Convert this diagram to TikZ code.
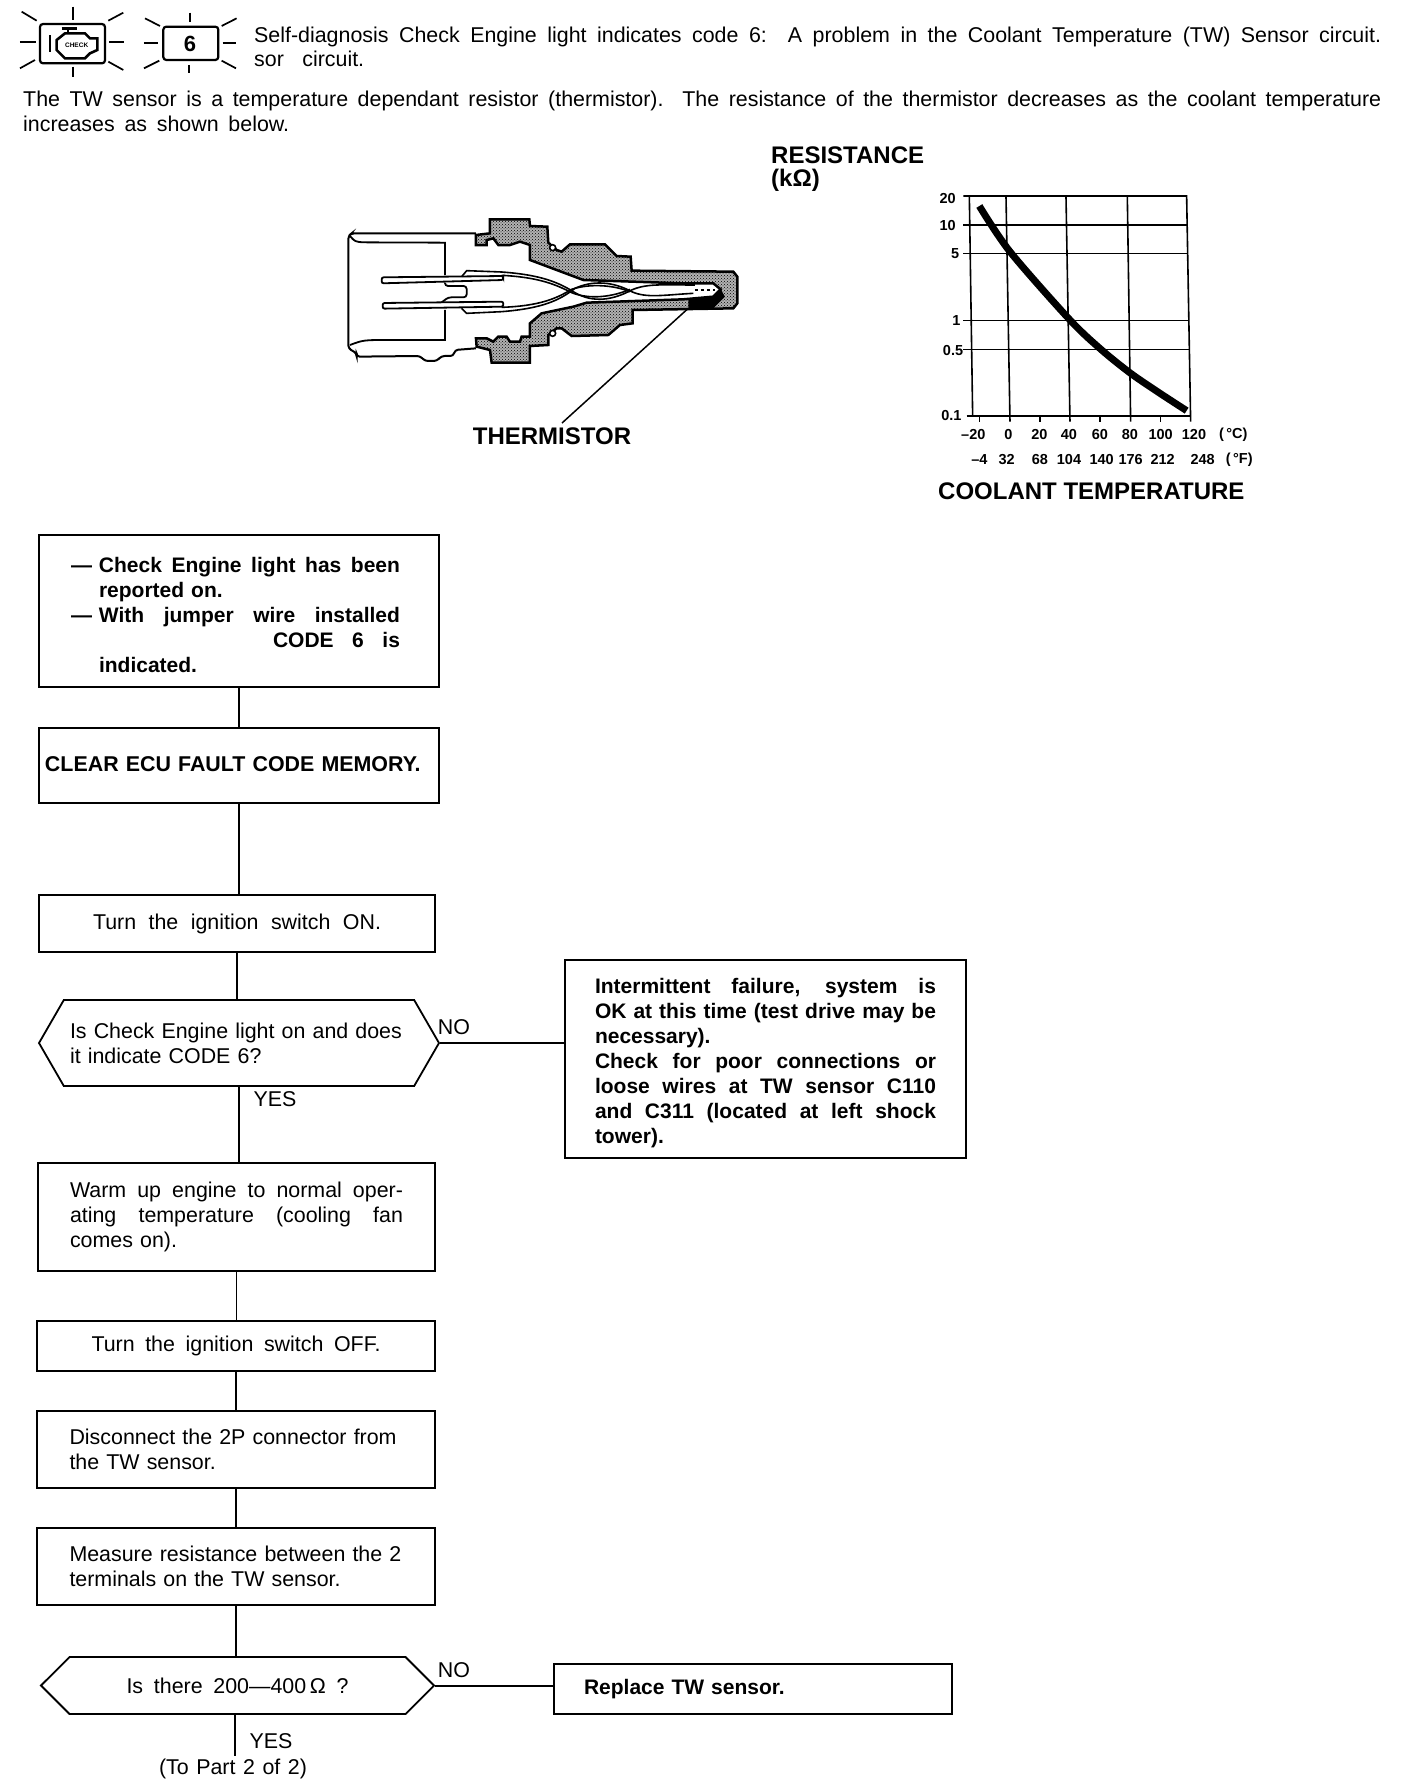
\documentclass[tikz,border=0pt]{standalone}
\usepackage{fontspec}
\setmainfont{Liberation Sans}
\usepackage{tikz}
\usetikzlibrary{calc,patterns,shapes.symbols}

\newcommand{\spreadto}[2]{\leavevmode\hbox to #1{\spaceskip=0pt\xspaceskip=0pt #2}}
\newcommand{\spreadline}[1]{\spreadto{\hsize}{#1}}

\begin{document}
\begin{tikzpicture}[
  x=1pt,y=-1pt,
  font=\fontsize{21.4}{25}\selectfont,
  stepbox/.style={draw,line width=1.8pt,align=left,inner sep=0pt},
  boldbox/.style={stepbox,font=\fontsize{21}{25}\selectfont\bfseries},
  decision/.style={draw,line width=1.8pt,signal,signal to=west and east,align=left,inner sep=0pt},
  link/.style={line width=1.3pt},
  ray/.style={line width=1.7pt},
  gridline/.style={line width=1.6pt},
  heading/.style={font=\fontsize{24}{28}\selectfont\bfseries,inner sep=0pt},
  scale label/.style={font=\fontsize{14.5}{16}\selectfont\bfseries,inner sep=0pt},
  plain label/.style={inner sep=0pt}
]
\useasboundingbox[fill=white] (0,0) rectangle (1408,1792);

% warning lamps
\begin{scope}[x=0.3333pt,y=-0.3333pt]
\draw[line width=2.2pt,rounded corners=3pt] (120,72) rectangle (315,190);
\draw[line width=2.2pt,rounded corners=3pt] (490,80) rectangle (655,180);
\draw[line width=2.6pt] (150,105) -- (150,155);
\draw[line width=2.6pt] (185,85) -- (230,85);
\draw[line width=2.2pt] (205,85) -- (205,100);
\draw[line width=2.6pt] (170,120) -- (195,100) -- (255,100) -- (270,115) -- (292,115) -- (292,150)
  -- (270,160) -- (255,175) -- (195,175) -- (170,150) -- cycle;
\node[inner sep=0pt,font=\fontsize{6.5}{6}\selectfont\bfseries] (lampcheck) at (230,136) {CHECK};
\node[inner sep=0pt,font=\fontsize{22}{22}\selectfont\bfseries] (lampcode) at (570,131) {6};
\draw[ray] (220,20) -- (220,60);
\draw[ray] (65,35) -- (110,62);
\draw[ray] (370,38) -- (325,62);
\draw[ray] (60,125) -- (108,125);
\draw[ray] (328,125) -- (372,125);
\draw[ray] (60,205) -- (105,180);
\draw[ray] (325,185) -- (370,210);
\draw[ray] (218,200) -- (218,230);
\draw[ray] (570,38) -- (570,65);
\draw[ray] (435,55) -- (480,78);
\draw[ray] (710,55) -- (665,78);
\draw[ray] (432,128) -- (475,128);
\draw[ray] (668,128) -- (708,128);
\draw[ray] (432,205) -- (478,182);
\draw[ray] (665,182) -- (708,205);
\draw[ray] (568,195) -- (568,220);
\end{scope}

% text at the top
\node[plain label,anchor=west,text width=1127pt,align=left] (headline) at (254,37)
  {\spreadline{Self-diagnosis Check Engine light indicates code 6:\ \ A problem in the Coolant Temperature (TW) Sensor circuit.}};
\node[plain label,anchor=west] (headrest) at (254,59) {\spreadto{110pt}{sor circuit.}};
\node[plain label,anchor=west,text width=1358pt,align=left] (intro) at (23,101)
  {\spreadline{The TW sensor is a temperature dependant resistor (thermistor). The resistance of the thermistor decreases as the coolant temperature}};
\node[plain label,anchor=west] (introrest) at (23,124) {\spreadto{266pt}{increases as shown below.}};

% sensor cut-away
\begin{scope}[shift={(330,200)},x=0.3333pt,y=-0.3333pt]
\draw[line width=2.5pt,preaction={fill=black!30},pattern=crosshatch dots,pattern color=black]
  (480,58) -- (598,58) -- (600,78) -- (652,80) -- (655,128) -- (680,150) -- (695,155) -- (720,133)
  -- (825,133) -- (860,168) -- (902,170) -- (905,212) -- (1210,215) -- (1222,230) -- (1222,310)
  -- (1210,325) -- (908,330) -- (908,370) -- (870,375) -- (835,405) -- (725,408) -- (695,385)
  -- (680,385) -- (655,405) -- (655,435) -- (600,438) -- (600,488) -- (485,488) -- (480,450)
  -- (440,440) -- (438,415) -- (470,415) -- (490,425) -- (505,410) -- (530,410) -- (540,425)
  -- (570,425) -- (575,410) -- (600,410) -- (600,370) -- (635,340) -- (730,320) -- (770,308)
  -- (1060,298) -- (1150,290) -- (1172,268) -- (1150,250) -- (1060,250) -- (760,240) -- (600,180)
  -- (600,135) -- (570,125) -- (540,135) -- (505,135) -- (490,115) -- (470,120) -- (470,135)
  -- (438,135) -- (438,105) -- (480,100) -- cycle;
\draw[line width=1.6pt,fill=white] (668,143) circle[radius=9];
\draw[line width=1.6pt,fill=white] (668,400) circle[radius=9];
\fill[black] (1075,298) -- (1150,290) -- (1172,268) -- (1185,290) -- (1150,325) -- (1075,325) -- cycle;
\draw[line width=2pt,rounded corners=3pt] (438,100) -- (65,100) -- (55,108) -- (55,445) -- (80,460) -- (80,470)
  -- (270,468) -- (285,483) -- (320,483) -- (335,468) -- (370,468) -- (375,450) -- (438,445);
\draw[line width=1.8pt] (60,108) .. controls (75,125) .. (100,127) -- (345,128) -- (345,225);
\draw[line width=1.8pt] (345,330) -- (345,420) -- (180,420) .. controls (100,420) .. (60,435);
\draw[line width=1.8pt,rounded corners=3pt] (345,248) -- (345,258) -- (410,258) -- (410,292) -- (355,292) -- (335,307);
\draw[line width=1.8pt,fill=white,rounded corners=2pt] (155,232) -- (520,228) -- (520,240) -- (155,250) -- cycle;
\draw[line width=1.8pt,fill=white,rounded corners=2pt] (158,309) -- (520,305) -- (520,320) -- (158,326) -- cycle;
\draw[line width=1.6pt] (395,230) -- (410,212) -- (515,216) .. controls (640,225) and (690,250) .. (735,278)
  .. controls (790,310) and (850,300) .. (905,270) .. controls (950,250) and (1000,255) .. (1095,255);
\draw[line width=1.6pt] (515,226) .. controls (630,232) and (680,255) .. (725,278)
  .. controls (780,300) and (850,290) .. (900,268);
\draw[line width=1.6pt] (395,325) -- (410,340) -- (515,335) .. controls (640,325) and (690,300) .. (735,265)
  .. controls (790,240) and (850,245) .. (905,275) .. controls (950,295) and (1000,285) .. (1090,280);
\draw[line width=1.6pt] (515,322) .. controls (630,318) and (680,295) .. (725,268)
  .. controls (780,250) and (850,255) .. (900,275);
\draw[line width=1.6pt,dashed] (1095,270) -- (1155,270);
\coordinate (sensortip) at (1075,325);
\end{scope}
\node[heading] (thermistor) at (552,436) {THERMISTOR};
\draw[line width=1.5pt] (562,423) -- (sensortip);

% resistance graph
\node[heading,anchor=west] (resistance) at (771,155) {RESISTANCE};
\node[heading,anchor=west] (kohm) at (771,180) {(kΩ)};
\node[heading,anchor=west] (coolant) at (938,491) {COOLANT TEMPERATURE};
\begin{scope}[shift={(920,170)},x=0.3333pt,y=-0.3333pt]
\draw[gridline] (130,78) -- (800,78) -- (812,755);
\draw[gridline] (148,78) -- (158,738);
\draw[gridline] (130,165) -- (800,165);
\draw[gridline] (130,250) -- (803,250);
\draw[gridline] (130,452) -- (806,452);
\draw[gridline] (130,538) -- (808,538);
\draw[gridline] (140,738) -- (812,738);
\draw[gridline] (258,78) -- (270,755);
\draw[gridline] (438,78) -- (450,755);
\draw[gridline] (622,78) -- (632,755);
\draw[gridline] (178,738) -- (178,755);
\draw[gridline] (360,738) -- (360,755);
\draw[gridline] (540,738) -- (540,755);
\draw[gridline] (722,738) -- (722,755);
\draw[line width=7pt] plot[smooth] coordinates {(178,108) (270,245) (450,450) (545,540) (632,610) (720,670) (800,722)};
\node[scale label,anchor=east] (r20) at (108,85) {20};
\node[scale label,anchor=east] (r10) at (108,168) {10};
\node[scale label,anchor=east] (r5) at (118,250) {5};
\node[scale label,anchor=east] (r1) at (122,452) {1};
\node[scale label,anchor=east] (r05) at (130,542) {0.5};
\node[scale label,anchor=east] (r01) at (125,738) {0.1};
\node[scale label] (c20m) at (160,795) {--20};
\node[scale label] (c0) at (265,795) {0};
\node[scale label] (c20) at (358,795) {20};
\node[scale label] (c40) at (447,795) {40};
\node[scale label] (c60) at (540,795) {60};
\node[scale label] (c80) at (630,795) {80};
\node[scale label] (c100) at (722,795) {100};
\node[scale label] (c120) at (822,795) {120};
\node[scale label] (cunit) at (940,795) {(\,°C)};
\node[scale label] (f4) at (178,868) {--4};
\node[scale label] (f32) at (260,868) {32};
\node[scale label] (f68) at (360,868) {68};
\node[scale label] (f104) at (447,868) {104};
\node[scale label] (f140) at (545,868) {140};
\node[scale label] (f176) at (632,868) {176};
\node[scale label] (f212) at (728,868) {212};
\node[scale label] (f248) at (848,868) {248};
\node[scale label] (funit) at (958,868) {(\,°F)};
\end{scope}

% flow chart
\node[boldbox,minimum width=400pt,minimum height=152pt,text width=336pt] (notice) at (239,611) {%
  \rule{0pt}{23pt}\spreadto{329pt}{\hbox to 28pt{---\hss}Check Engine light has been}\\
  \hspace*{28pt}reported on.\\
  \spreadto{329pt}{\hbox to 28pt{---\hss}With jumper wire installed}\\
  \spreadto{329pt}{\hspace*{202pt}CODE 6 is}\\
  \hspace*{28pt}indicated.
};
\node[stepbox,font=\fontsize{21.4}{25}\selectfont\bfseries,minimum width=400pt,minimum height=75pt,text width=388pt] (clear) at (239,765.5) {\raisebox{3pt}{CLEAR ECU FAULT CODE MEMORY.}};
\node[stepbox,minimum width=396pt,minimum height=57pt,text width=288pt] (ignon) at (237,923.5) {\spreadline{Turn the ignition switch ON.}};
\node[decision,signal pointer angle=120,minimum width=400pt,minimum height=86pt,text width=338pt] (codesix) at (239,1043) {%
  Is Check Engine light on and does\\
  it indicate CODE 6?
};
\node[boldbox,minimum width=401pt,minimum height=198pt,text width=341pt] (intermittent) at (765.5,1059) {%
  \rule{0pt}{23pt}\spreadline{Intermittent failure, system is}\\
  \spreadline{OK at this time (test drive may be}\\
  necessary).\\
  \spreadline{Check for poor connections or}\\
  \spreadline{loose wires at TW sensor C110}\\
  \spreadline{and C311 (located at left shock}\\
  tower).
};
\node[stepbox,minimum width=397pt,minimum height=108pt,text width=333pt] (warmup) at (236.5,1217) {%
  \spreadline{Warm up engine to normal oper-}\\
  \spreadline{ating temperature (cooling fan}\\
  comes on).
};
\node[stepbox,minimum width=398pt,minimum height=50pt,text width=289pt] (ignoff) at (236,1346) {\raisebox{-2pt}{\spreadline{Turn the ignition switch OFF.}}};
\node[stepbox,minimum width=398pt,minimum height=77pt,text width=333pt] (disconnect) at (236,1449.5) {%
  Disconnect the 2P connector from\\
  the TW sensor.
};
\node[stepbox,minimum width=398pt,minimum height=77pt,text width=333pt] (measure) at (236,1566.5) {%
  Measure resistance between the 2\\
  terminals on the TW sensor.
};
\node[decision,signal pointer angle=90,minimum width=393pt,minimum height=57pt,text width=222pt] (ohms) at (237.5,1685.5) {\spreadline{Is there 200—400\,Ω ?}};
\node[boldbox,minimum width=398pt,minimum height=50pt,text width=338pt] (replace) at (753,1689) {\raisebox{-2pt}{Replace TW sensor.}};

\node[plain label] (nofirst) at (454,1027) {NO};
\node[plain label] (yesfirst) at (275,1099) {YES};
\node[plain label] (nosecond) at (454,1670) {NO};
\node[plain label] (yessecond) at (271,1741) {YES};
\node[plain label] (nextpart) at (233,1769) {\spreadto{148pt}{(To Part 2 of 2)}};
\coordinate (ohmsout) at (235,1756);

\draw[link] (notice.south) -- (notice.south |- clear.north);
\draw[link] (clear.south) -- (clear.south |- ignon.north);
\draw[link] (ignon.south) -- (ignon.south |- codesix.north);
\draw[link,line width=2pt] (codesix.south) -- (codesix.south |- warmup.north);
\draw[link] (codesix.east) -- (codesix.east -| intermittent.west);
\draw[link] (warmup.south) -- (warmup.south |- ignoff.north);
\draw[link] (ignoff.south) -- (ignoff.south |- disconnect.north);
\draw[link] (disconnect.south) -- (disconnect.south |- measure.north);
\draw[link] (measure.south) -- (measure.south |- ohms.north);
\draw[link,line width=2pt] (ohms.east) -- (ohms.east -| replace.west);
\draw[link] (ohms.south -| ohmsout) -- (ohmsout);
\end{tikzpicture}
\end{document}
